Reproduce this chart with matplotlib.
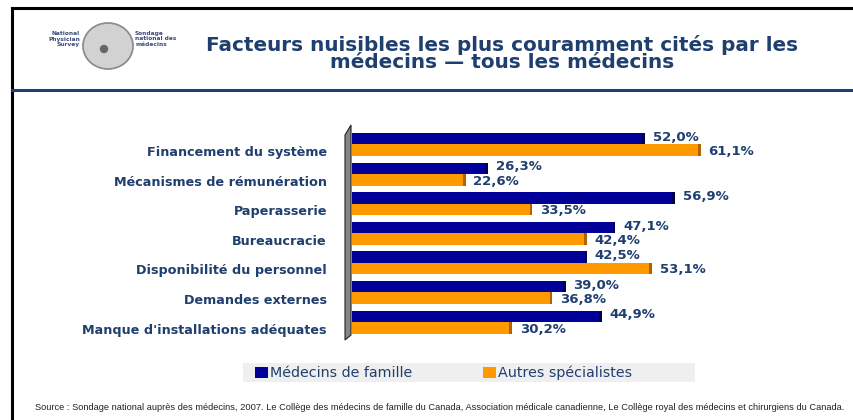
import matplotlib
matplotlib.use("Agg")
import matplotlib.pyplot as plt
import matplotlib.transforms as mtransforms
from matplotlib.patches import Polygon, Rectangle, Ellipse, Patch
from matplotlib.lines import Line2D

# ---------------- data ----------------
categories = [
    "Financement du système",
    "Mécanismes de rémunération",
    "Paperasserie",
    "Bureaucracie",
    "Disponibilité du personnel",
    "Demandes externes",
    "Manque d'installations adéquates",
]
famille = [52.0, 26.3, 56.9, 47.1, 42.5, 39.0, 44.9]
autres = [61.1, 22.6, 33.5, 42.4, 53.1, 36.8, 30.2]
series_names = ["Médecins de famille", "Autres spécialistes"]
title = "Facteurs nuisibles les plus couramment cités par les\nmédecins — tous les médecins"
source = ("Source : Sondage national auprès des médecins, 2007. Le Collège des médecins de famille du Canada, "
          "Association médicale canadienne, Le Collège royal des médecins et chirurgiens du Canada.")

W, H = 854, 420
DPI = 100
plt.rcParams['font.family'] = ['DejaVu Sans']

fig = plt.figure(figsize=(W / DPI, H / DPI), dpi=DPI)
fig.patch.set_facecolor("white")

def fx(x):
    return x / W

def fy(y):
    return 1 - y / H

TXT = "#1F3F6F"
BLUE = "#000099"
BLUE_D = "#00004D"
ORANGE = "#FF9900"
ORANGE_D = "#B36200"

# frame lines
fig.add_artist(Line2D([fx(12), fx(854)], [fy(8), fy(8)], color="black", lw=2.2))
fig.add_artist(Line2D([fx(12), fx(12)], [fy(8), fy(420)], color="black", lw=2.2))
fig.add_artist(Line2D([fx(12), fx(854)], [fy(90), fy(90)], color="#1F3F73", lw=2.2))

# logo (approximation)
fig.add_artist(Ellipse((fx(108), fy(46)), 50 / W, 46 / H, color="#D2D2D2", transform=fig.transFigure))
fig.add_artist(Ellipse((fx(108), fy(46)), 50 / W, 46 / H, facecolor="none", edgecolor="#8A8A8A",
                       lw=1.2, transform=fig.transFigure))
fig.add_artist(Ellipse((fx(104), fy(49)), 7 / W, 7 / H, color="#666666", transform=fig.transFigure))
fig.text(fx(80), fy(39), "National\nPhysician\nSurvey", ha="right", va="center",
         fontsize=4.2, fontweight="bold", color="#3A4A7A", linespacing=1.15,
         family="Liberation Sans Narrow")
fig.text(fx(135), fy(39), "Sondage\nnational des\nmédecins", ha="left", va="center",
         fontsize=4.2, fontweight="bold", color="#3A4A7A", linespacing=1.15,
         family="Liberation Sans Narrow")

# title
fig.text(fx(502), fy(53.5), title, ha="center", va="center", fontsize=14.4,
         fontweight="bold", color=TXT, linespacing=0.93)

# axes
ax_left, ax_right, ax_top, ax_bot = 352, 800, 125, 340
ax = fig.add_axes([fx(ax_left), fy(ax_bot), (ax_right - ax_left) / W, (ax_bot - ax_top) / H])
ax.set_facecolor("none")
px_per = 6.1
zero_px = 328
ax.set_xlim((ax_left - zero_px) / px_per, (ax_right - zero_px) / px_per)
grp = 29.6
ax.set_ylim(6 + (ax_bot - 322) / grp, -(144.5 - ax_top) / grp)

h = 11.5 / grp
ypos = list(range(len(categories)))
yb = [y - h / 2 for y in ypos]
yo = [y + h / 2 for y in ypos]
ax.barh(yb, famille, height=h, color=BLUE, zorder=2)
ax.barh(yo, autres, height=h, color=ORANGE, zorder=2)
# darker end caps for the 3D look
cap = 0.45
ax.barh(yb, [cap] * len(famille), left=[v - cap for v in famille], height=h, color=BLUE_D, zorder=3)
ax.barh(yo, [cap] * len(autres), left=[v - cap for v in autres], height=h, color=ORANGE_D, zorder=3)

for v, y in zip(famille, yb):
    ax.annotate(f"{v:.1f}%".replace(".", ","), (v, y), xytext=(5.5, 1), textcoords="offset points",
                ha="left", va="center", fontsize=9.5, fontweight="bold", color=TXT, zorder=4)
for v, y in zip(autres, yo):
    ax.annotate(f"{v:.1f}%".replace(".", ","), (v, y), xytext=(5.5, -1), textcoords="offset points",
                ha="left", va="center", fontsize=9.5, fontweight="bold", color=TXT, zorder=4)

ax.set_yticks(ypos)
ax.set_yticklabels(categories, fontsize=9.2, fontweight="bold", color=TXT)
ax.tick_params(axis="y", length=0, pad=(ax_left - 327) * 0.72)
ax.set_xticks([])
off = mtransforms.ScaledTranslation(0, -6.5 / DPI, fig.dpi_scale_trans)
for lab in ax.get_yticklabels():
    lab.set_transform(lab.get_transform() + off)
for s in ax.spines.values():
    s.set_visible(False)

# 3D wall
wall = Polygon([(fx(345), fy(135)), (fx(351), fy(125)), (fx(351), fy(335)), (fx(345), fy(340))],
               closed=True, facecolor="#858585", edgecolor="#222222", lw=0.8, transform=fig.transFigure)
fig.add_artist(wall)

# legend
fig.add_artist(Rectangle((fx(243), fy(382)), (695 - 243) / W, 19 / H, facecolor="#EFEFEF",
                         edgecolor="none", transform=fig.transFigure))
handles = [Patch(facecolor=BLUE, edgecolor="none"), Patch(facecolor=ORANGE, edgecolor="none")]
leg = fig.legend(handles, series_names, loc="center left", bbox_to_anchor=(fx(255), fy(373)),
                 ncol=2, frameon=False, fontsize=10.3, handlelength=0.9, handleheight=0.75,
                 handletextpad=0.15, columnspacing=4.95, borderaxespad=0, borderpad=0)
for t in leg.get_texts():
    t.set_color(TXT)

# source
fig.text(fx(440), fy(408), source, ha="center", va="center", fontsize=6.7, color="#222222",
         family="Liberation Sans")

fig.savefig("out.png", dpi=DPI)
